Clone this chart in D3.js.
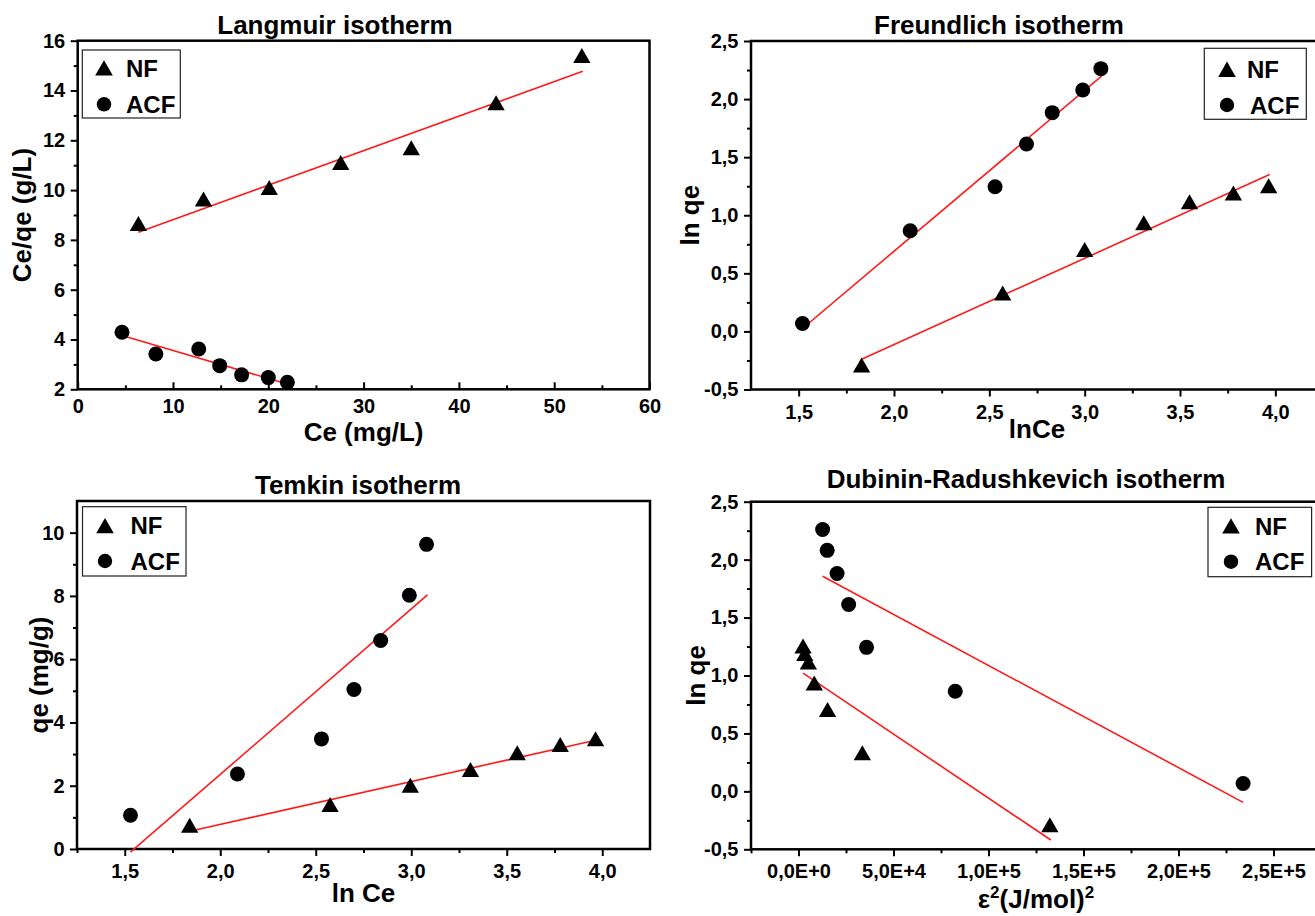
<!DOCTYPE html>
<html>
<head>
<meta charset="utf-8">
<script src="https://cdn.jsdelivr.net/npm/d3@7"></script>
<style>
  body { margin: 0; background: #fff; overflow: hidden; }
  svg { display: block; font-family: "Liberation Sans", Arial, sans-serif; font-weight: bold; }
</style>
</head>
<body>
<div class="chart"></div>
<script>
//data
//Langmuir: Ce vs Ce/qe
let langNF_x = [6.37, 13.2, 20.1, 27.6, 35.0, 43.9, 52.9]
let langNF_y = [8.65, 9.64, 10.1, 11.1, 11.7, 13.5, 15.4]
let langACF_x = [4.65, 8.2, 12.7, 14.9, 17.2, 20.0, 22.0]
let langACF_y = [4.29, 3.42, 3.62, 2.95, 2.58, 2.47, 2.28]
let langFitNF = [[6.37, 8.31], [53.0, 14.77]]
let langFitACF = [[4.65, 4.16], [22.1, 2.2]]

//Freundlich: lnCe vs ln qe
let frNF_x = [1.83, 2.57, 3.0, 3.31, 3.55, 3.78, 3.965]
let frNF_y = [-0.29, 0.33, 0.705, 0.935, 1.116, 1.19, 1.254]
let frACF_x = [1.52, 2.085, 2.53, 2.695, 2.83, 2.99, 3.085]
let frACF_y = [0.068, 0.866, 1.245, 1.613, 1.883, 2.078, 2.262]
let frFitNF = [[1.83, -0.24], [3.97, 1.35]]
let frFitACF = [[1.52, 0.025], [3.09, 2.2]]

//Temkin: ln Ce vs qe
let tmNF_x = [1.84, 2.575, 2.995, 3.31, 3.555, 3.78, 3.965]
let tmNF_y = [0.75, 1.40, 2.01, 2.51, 3.04, 3.30, 3.48]
let tmACF_x = [1.53, 2.09, 2.53, 2.70, 2.84, 2.99, 3.08]
let tmACF_y = [1.065, 2.37, 3.48, 5.04, 6.59, 8.02, 9.63]
let tmFitNF = [[1.84, 0.56], [3.965, 3.44]]
let tmFitACF = [[1.53, -0.1], [3.085, 8.03]]

//Dubinin-Radushkevich: eps^2 vs ln qe
let drNF_x = [2400, 3300, 5200, 8300, 15300, 33600, 132300]
let drNF_y = [1.254, 1.188, 1.116, 0.935, 0.706, 0.332, -0.29]
let drACF_x = [12700, 15100, 20300, 26400, 35800, 82500, 234000]
let drACF_y = [2.26, 2.08, 1.88, 1.613, 1.243, 0.864, 0.068]
let drFitNF = [[2400, 1.02], [132800, -0.42]]
let drFitACF = [[12700, 1.857], [234000, -0.095]]

//ticks
let langXTicks = [0, 10, 20, 30, 40, 50, 60]
let langYTicks = [2, 4, 6, 8, 10, 12, 14, 16]
let lnXTicks = [1.5, 2.0, 2.5, 3.0, 3.5, 4.0]
let lnXLabels = ['1,5', '2,0', '2,5', '3,0', '3,5', '4,0']
let lnqeTicks = [-0.5, 0, 0.5, 1.0, 1.5, 2.0, 2.5]
let lnqeLabels = ['-0,5', '0,0', '0,5', '1,0', '1,5', '2,0', '2,5']
let tmYTicks = [0, 2, 4, 6, 8, 10]
let drXTicks = [0, 50000, 100000, 150000, 200000, 250000]
let drXLabels = ['0,0E+0', '5,0E+4', '1,0E+5', '1,5E+5', '2,0E+5', '2,5E+5']
let legendNames = ['NF', 'ACF']

let svg = d3.select('.chart')
    .append('svg')
    .attr('width', 1315)
    .attr('height', 916)

function zip(xs, ys) {
    return xs.map((x, i) => [x, ys[i]])
}

function drawPanel(p) {
    let x = d3.scaleLinear().domain(p.xDomain).range([p.left, p.right])
    let y = d3.scaleLinear().domain(p.yDomain).range([p.bottom, p.top])
    let g = svg.append('g')

    //minor ticks
    let xMinorAxis = d3.axisBottom(x).tickValues(p.xMinor).tickFormat('')
        .tickSize(p.xInward ? -4 : 4)
    g.append('g')
        .attr('transform', `translate(0,${p.bottom})`)
        .call(xMinorAxis)
    g.append('g')
        .attr('transform', `translate(${p.left},0)`)
        .call(d3.axisLeft(y).tickValues(p.yMinor).tickFormat('').tickSize(4))

    //major ticks
    let xAxis = d3.axisBottom(x)
        .tickValues(p.xTicks)
        .tickFormat((d, i) => p.xLabels ? p.xLabels[i] : d)
        .tickSize(p.xInward ? -7 : 7)
        .tickPadding(p.xInward ? 9.8 : 8)
    g.append('g')
        .attr('class', 'x-axis')
        .attr('transform', `translate(0,${p.bottom})`)
        .call(xAxis)
    let yAxis = d3.axisLeft(y)
        .tickValues(p.yTicks)
        .tickFormat((d, i) => p.yLabels ? p.yLabels[i] : d)
        .tickSize(7)
        .tickPadding(5.5)
    g.append('g')
        .attr('transform', `translate(${p.left},0)`)
        .call(yAxis)

    g.selectAll('.domain').remove()
    g.selectAll('.tick line').attr('stroke', '#000').attr('stroke-width', 2)
    g.selectAll('.tick text')
        .attr('fill', '#000')
        .style('font-size', '20px')
        .style('font-family', '"Liberation Sans", Arial, sans-serif')
        .style('font-weight', 'bold')

    //frame
    g.append('rect')
        .attr('x', p.left)
        .attr('y', p.top)
        .attr('width', p.right - p.left)
        .attr('height', p.bottom - p.top)
        .attr('fill', 'none')
        .attr('stroke', '#000')
        .attr('stroke-width', 2.5)

    //fitted lines
    let line = d3.line().x(d => x(d[0])).y(d => y(d[1]))
    p.fits.forEach(f => {
        g.append('path')
            .attr('d', line(f))
            .attr('fill', 'none')
            .attr('stroke', '#ff1a1a')
            .attr('stroke-width', 1.6)
    })

    //points
    let tri = d3.symbol(d3.symbolTriangle, 130)
    g.selectAll('.tri')
        .data(p.nf)
        .enter()
        .append('path')
        .attr('d', tri())
        .attr('transform', d => `translate(${x(d[0])},${y(d[1]) + 2.4})`)
        .attr('fill', '#000')
    g.selectAll('.dot')
        .data(p.acf)
        .enter()
        .append('circle')
        .attr('cx', d => x(d[0]))
        .attr('cy', d => y(d[1]))
        .attr('r', 7.5)
        .attr('fill', '#000')

    //title and axis labels
    g.append('text')
        .attr('x', p.titleX)
        .attr('y', p.titleY)
        .attr('text-anchor', 'middle')
        .style('font-size', '26px')
        .text(p.title)
    g.append('text')
        .attr('x', (p.left + p.right) / 2)
        .attr('y', p.xLabelY)
        .attr('text-anchor', 'middle')
        .style('font-size', '26px')
        .html(p.xLabel)
    g.append('text')
        .attr('transform', `translate(${p.yLabelX},${(p.top + p.bottom) / 2}) rotate(-90)`)
        .attr('text-anchor', 'middle')
        .style('font-size', '26px')
        .text(p.yLabel)

    //legend
    let lg = p.legend
    g.append('rect')
        .attr('x', lg.x)
        .attr('y', lg.y)
        .attr('width', lg.w)
        .attr('height', lg.h)
        .attr('fill', '#fff')
        .attr('stroke', '#222')
        .attr('stroke-width', 1.2)
    g.append('path')
        .attr('d', d3.symbol(d3.symbolTriangle, 135)())
        .attr('transform', `translate(${lg.mx},${lg.y1 + 2.5})`)
    g.append('circle')
        .attr('cx', lg.mx)
        .attr('cy', lg.y2)
        .attr('r', 7.2)
    legendNames.forEach((name, i) => {
        g.append('text')
            .attr('x', lg.tx[i])
            .attr('y', i == 0 ? lg.y1 : lg.y2)
            .attr('dy', '0.36em')
            .style('font-size', '24px')
            .text(name)
    })
}

//Langmuir
drawPanel({
    left: 77.7, right: 649.5, top: 40.7, bottom: 389.3,
    xDomain: [0, 60], yDomain: [2, 16],
    xTicks: langXTicks, xMinor: [5, 15, 25, 35, 45, 55], xInward: true,
    yTicks: langYTicks, yMinor: [3, 5, 7, 9, 11, 13, 15],
    nf: zip(langNF_x, langNF_y), acf: zip(langACF_x, langACF_y),
    fits: [langFitNF, langFitACF],
    title: 'Langmuir isotherm', titleX: 335, titleY: 34,
    xLabel: 'Ce (mg/L)', xLabelY: 441,
    yLabel: 'Ce/qe (g/L)', yLabelX: 31,
    legend: {x: 82.3, y: 50, w: 98, h: 68, mx: 104, y1: 68, y2: 104.3, tx: [126, 126]}
})

//Freundlich
drawPanel({
    left: 751, right: 1323, top: 41, bottom: 389.5,
    xDomain: [1.25, 4.25], yDomain: [-0.5, 2.5],
    xTicks: lnXTicks, xLabels: lnXLabels, xMinor: [1.75, 2.25, 2.75, 3.25, 3.75, 4.25],
    yTicks: lnqeTicks, yLabels: lnqeLabels, yMinor: [-0.25, 0.25, 0.75, 1.25, 1.75, 2.25],
    nf: zip(frNF_x, frNF_y), acf: zip(frACF_x, frACF_y),
    fits: [frFitNF, frFitACF],
    title: 'Freundlich isotherm', titleX: 999, titleY: 33.5,
    xLabel: 'lnCe', xLabelY: 438,
    yLabel: 'ln qe', yLabelX: 699,
    legend: {x: 1204.3, y: 48.3, w: 102, h: 71, mx: 1227, y1: 69.3, y2: 105, tx: [1247, 1250]}
})

//Temkin
drawPanel({
    left: 77, right: 650, top: 501, bottom: 849,
    xDomain: [1.25, 4.25], yDomain: [0, 11],
    xTicks: lnXTicks, xLabels: lnXLabels, xMinor: [1.25, 1.75, 2.25, 2.75, 3.25, 3.75],
    yTicks: tmYTicks, yMinor: [1, 3, 5, 7, 9],
    nf: zip(tmNF_x, tmNF_y), acf: zip(tmACF_x, tmACF_y),
    fits: [tmFitNF, tmFitACF],
    title: 'Temkin isotherm', titleX: 358, titleY: 494,
    xLabel: 'ln Ce', xLabelY: 902,
    yLabel: 'qe (mg/g)', yLabelX: 47.5,
    legend: {x: 82.5, y: 506.7, w: 103.5, h: 69.3, mx: 105, y1: 525.7, y2: 561, tx: [130.5, 130.5]}
})

//Dubinin-Radushkevich
drawPanel({
    left: 751, right: 1321, top: 501.7, bottom: 849.3,
    xDomain: [-25000, 275000], yDomain: [-0.5, 2.5],
    xTicks: drXTicks, xLabels: drXLabels, xMinor: [-25000, 25000, 75000, 125000, 175000, 225000],
    yTicks: lnqeTicks, yLabels: lnqeLabels, yMinor: [-0.25, 0.25, 0.75, 1.25, 1.75, 2.25],
    nf: zip(drNF_x, drNF_y), acf: zip(drACF_x, drACF_y),
    fits: [drFitNF, drFitACF],
    title: 'Dubinin-Radushkevich isotherm', titleX: 1026, titleY: 488,
    xLabel: 'ε<tspan dy="-10" font-size="17">2</tspan><tspan dy="10">(J/mol)</tspan><tspan dy="-10" font-size="17">2</tspan>', xLabelY: 908,
    yLabel: 'ln qe', yLabelX: 705,
    legend: {x: 1208, y: 507.3, w: 103.6, h: 69.4, mx: 1231, y1: 526, y2: 561.7, tx: [1255, 1255]}
})
</script>
</body>
</html>
